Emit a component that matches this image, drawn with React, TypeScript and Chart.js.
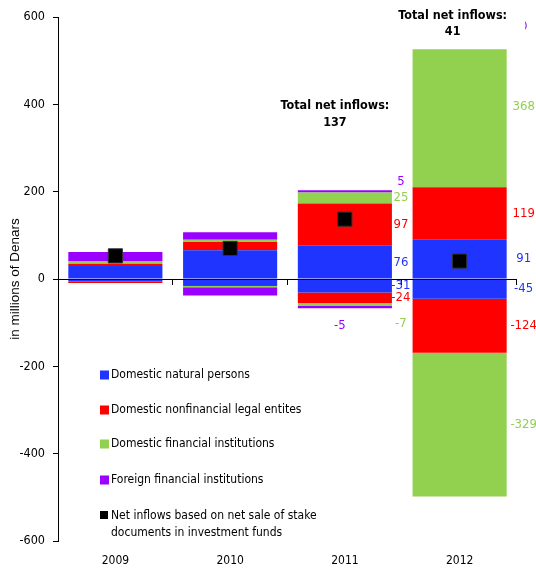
import React, { useEffect, useRef } from 'react';
import { Chart, registerables } from 'chart.js';

Chart.register(...registerables);

const categories = ['2009', '2010', '2011', '2012'];

const naturalPos = [30, 66, 76, 91];
const nonfinPos = [5, 19, 97, 119];
const finPos = [5, 5, 25, 368];
const foreignPos = [22, 17, 5, 0];
const naturalNeg = [-6, -14, -31, -45];
const nonfinNeg = [-3, -2, -24, -124];
const finNeg = [0, -3, -7, -329];
const foreignNeg = [0, -19, -5, 0];
const netInflows = [53, 70, 137, 41];

const naturalPosLabels = ['', '', '76', '91'];
const nonfinPosLabels = ['', '', '97', '119'];
const finPosLabels = ['', '', '25', '368'];
const foreignPosLabels = ['', '', '5', '0'];
const naturalNegLabels = ['', '', '-31', '-45'];
const nonfinNegLabels = ['', '', '-24', '-124'];
const finNegLabels = ['', '', '-7', '-329'];
const foreignNegLabels = ['', '', '-5', ''];

const totalTitle = 'Total net inflows:';
const totalValues = ['', '', '137', '41'];
const totalAnchor = [null, null, 396, 604];

const seriesNames = [
  'Domestic natural persons',
  'Domestic nonfinancial legal entites',
  'Domestic financial institutions',
  'Foreign financial institutions',
];
const netNameLines = ['Net inflows based on net sale of stake', 'documents in investment funds'];
const yTitle = 'in millions of Denars';

const BLUE = '#1F35FF';
const RED = '#FF0000';
const GREEN = '#92D050';
const PURPLE = '#9A00FF';
const COLORS = [BLUE, RED, GREEN, PURPLE];
const FONT = '"DejaVu Sans Condensed", "DejaVu Sans", sans-serif';

const barValues = [naturalPos, nonfinPos, finPos, foreignPos, naturalNeg, nonfinNeg, finNeg, foreignNeg];
const barLabels = [
  naturalPosLabels, nonfinPosLabels, finPosLabels, foreignPosLabels,
  naturalNegLabels, nonfinNegLabels, finNegLabels, foreignNegLabels,
];
const labelDx = [0, 0, 9, 17];

const customPlugin = {
  id: 'custom',
  afterDatasetsDraw(chart: any) {
    const ctx = chart.ctx;
    const ca = chart.chartArea;
    const y = chart.scales.y;
    const catW = (ca.right - ca.left) / categories.length;
    const y0 = y.getPixelForValue(0);
    ctx.save();
    // zero axis line with category ticks
    ctx.strokeStyle = '#000';
    ctx.lineWidth = 1;
    ctx.beginPath();
    ctx.moveTo(ca.left, Math.round(y0) + 0.5);
    ctx.lineTo(ca.right, Math.round(y0) + 0.5);
    for (let k = 1; k <= categories.length; k++) {
      const x = Math.round(ca.left + k * catW) - 0.5;
      ctx.moveTo(x, Math.round(y0));
      ctx.lineTo(x, Math.round(y0) + 6);
    }
    ctx.stroke();

    // value labels
    ctx.font = '13px ' + FONT;
    ctx.textAlign = 'center';
    ctx.textBaseline = 'middle';
    for (let d = 0; d < 8; d++) {
      const meta = chart.getDatasetMeta(d + 1);
      const labels = barLabels[d];
      for (let j = 0; j < categories.length; j++) {
        const text = labels[j];
        if (!text) continue;
        const el: any = meta.data[j];
        let cx = el.x + el.width / 2 + labelDx[j];
        let cy = (el.y + el.base) / 2;
        if (d === 3 && j === 2) cy -= 10;
        if (d === 6 && j === 2) cy += 19;
        if (d === 7 && j === 2) { cx = el.x - 5; cy += 18; }
        ctx.fillStyle = COLORS[d % 4];
        ctx.fillText(text, cx, cy);
      }
    }

    // total annotations
    for (let j = 0; j < categories.length; j++) {
      if (totalAnchor[j] === null) continue;
      const meta = chart.getDatasetMeta(1);
      const el: any = meta.data[j];
      const cx = el.x - (j === 2 ? 10 : 7);
      const ly = y.getPixelForValue(totalAnchor[j] as number);
      if (j === 3) {
        ctx.fillStyle = '#fff';
        ctx.fillRect(cx - 72, 0, 144.5, ly + 34);
      }
      ctx.fillStyle = '#000';
      ctx.font = 'bold 12.5px ' + FONT;
      ctx.fillText(totalTitle, cx, ly);
      ctx.fillText(totalValues[j], cx, ly + 16.5);
    }

    // legend
    ctx.textAlign = 'left';
    ctx.font = '12px ' + FONT;
    const lx = ca.left + 42;
    const lys = [375, 410, 444, 480];
    for (let i = 0; i < 4; i++) {
      ctx.fillStyle = COLORS[i];
      ctx.fillRect(lx, lys[i] - 4.5, 9, 9);
      ctx.fillStyle = '#000';
      ctx.fillText(seriesNames[i], lx + 11, lys[i]);
    }
    ctx.fillStyle = '#000';
    ctx.fillRect(lx, 511, 8, 8);
    ctx.fillText(netNameLines[0], lx + 11, 515.5);
    ctx.fillText(netNameLines[1], lx + 11, 532.5);

    // y title
    ctx.translate(15, (ca.top + ca.bottom) / 2);
    ctx.rotate(-Math.PI / 2);
    ctx.textAlign = 'center';
    ctx.font = '13.5px "Liberation Sans", Arial, sans-serif';
    ctx.fillText(yTitle, 0, 0);
    ctx.restore();
  },
};

export default function App() {
  const ref = useRef<HTMLCanvasElement | null>(null);
  useEffect(() => {
    if (!ref.current) return;
    const barDatasets = barValues.map((vals, i) => ({
      type: 'bar' as const,
      label: seriesNames[i % 4],
      data: vals,
      backgroundColor: COLORS[i % 4],
      borderWidth: 0,
      barPercentage: 0.82,
      categoryPercentage: 1,
      stack: 'main',
    }));
    const chart = new Chart(ref.current, {
      type: 'bar',
      data: {
        labels: categories,
        datasets: [
          {
            type: 'line' as const,
            label: netNameLines.join(' '),
            data: netInflows,
            showLine: false,
            pointStyle: 'rect',
            pointRadius: 10,
            pointHoverRadius: 10,
            backgroundColor: '#000',
            borderColor: '#333',
            borderWidth: 1,
            stack: 'net',
            order: -1,
          } as any,
          ...barDatasets,
        ],
      },
      options: {
        animation: false,
        responsive: true,
        maintainAspectRatio: false,
        layout: { padding: { top: 17, right: 19, left: 0, bottom: 0 } },
        plugins: { legend: { display: false }, tooltip: { enabled: false } },
        scales: {
          x: {
            stacked: true,
            grid: { display: false, drawTicks: false },
            border: { display: false },
            ticks: { color: '#000', font: { family: FONT, size: 12 }, padding: 13 },
            afterFit: (s: any) => { s.height = 29; },
          },
          y: {
            stacked: true,
            min: -600,
            max: 600,
            ticks: { stepSize: 200, color: '#000', font: { family: FONT, size: 12.5 }, padding: 8 },
            grid: { display: true, drawOnChartArea: false, drawTicks: true, tickLength: 5, color: '#000' },
            border: { display: true, color: '#000', width: 1 },
            afterFit: (s: any) => { s.width = 58; },
          },
        },
      },
      plugins: [customPlugin],
    });
    return () => chart.destroy();
  }, []);
  return (
    <div style={{ position: 'fixed', left: 0, top: 0, width: 536, height: 570, background: '#fff' }}>
      <canvas ref={ref} />
    </div>
  );
}
